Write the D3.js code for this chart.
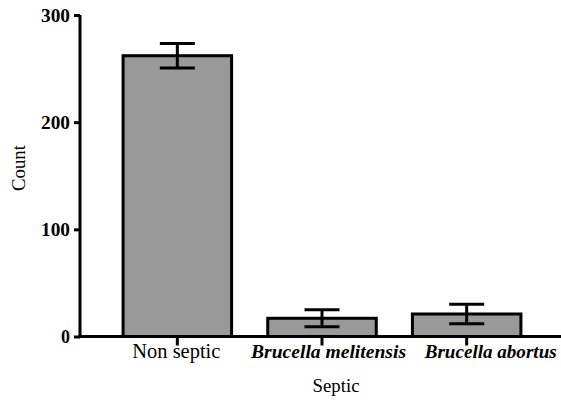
<!DOCTYPE html>
<html><head><meta charset="utf-8">
<script src="https://cdn.jsdelivr.net/npm/d3@7"></script>
</head><body style="margin:0;background:#fff">
<svg id="c" width="561" height="404"></svg>
<script>
const categories = ["Non septic", "Brucella melitensis", "Brucella abortus"];
const italic = [false, true, true];
const means = [262, 17, 21];
const errors = [11.5, 8, 9];
const yTicks = [0, 100, 200, 300];

const FONT = "Liberation Serif, Times New Roman, Tinos";
const svg = d3.select("#c");

const x = d3.scaleBand().domain(categories).range([105, 539]).paddingInner(0.25).paddingOuter(0.125);
const y = d3.scaleLinear().domain([0, 300]).range([336.5, 15]);

// bars
svg.selectAll("rect.bar").data(categories).enter().append("rect")
  .attr("x", d => x(d)).attr("width", x.bandwidth())
  .attr("y", (d,i) => y(means[i])).attr("height", (d,i) => y(0) - y(means[i]))
  .attr("fill", "#999999").attr("stroke", "#000").attr("stroke-width", 3);

// error bars
const cap = 35;
const eg = svg.append("g").attr("stroke", "#000").attr("stroke-width", 3).attr("fill", "none");
categories.forEach((c, i) => {
  const cx = x(c) + x.bandwidth()/2;
  eg.append("line").attr("x1", cx).attr("x2", cx).attr("y1", y(means[i]+errors[i])).attr("y2", y(means[i]-errors[i]));
  eg.append("line").attr("x1", cx-cap/2).attr("x2", cx+cap/2).attr("y1", y(means[i]+errors[i])).attr("y2", y(means[i]+errors[i]));
  eg.append("line").attr("x1", cx-cap/2).attr("x2", cx+cap/2).attr("y1", y(means[i]-errors[i])).attr("y2", y(means[i]-errors[i]));
});

// y axis
const ya = svg.append("g").attr("transform", "translate(80,0)")
  .call(d3.axisLeft(y).tickValues(yTicks).tickSize(6).tickPadding(4).tickFormat(d3.format("d")));
ya.select(".domain").attr("stroke-width", 3).attr("d", `M0,${y(300)}V${y(0)}`);
ya.selectAll(".tick line").attr("stroke-width", 3);
ya.selectAll(".tick text").attr("font-size", 18).attr("font-weight", "bold").attr("fill", "#000")
  .attr("data-w", d => d === 0 ? 0 : 29);

// x axis
const xa = svg.append("g").attr("transform", `translate(0,${y(0)})`)
  .call(d3.axisBottom(x).tickSize(9).tickPadding(0));
xa.select(".domain").attr("stroke-width", 3).attr("d", `M78.5,0H561`);
xa.selectAll(".tick line").attr("stroke-width", 3);
const labelW = [88, 155, 132];
const labelShift = [-1, 6.5, 24];
xa.selectAll(".tick text")
  .attr("font-size", (d,i) => italic[i] ? 19.5 : 20.5)
  .attr("font-style", (d,i) => italic[i] ? "italic" : "normal")
  .attr("font-weight", (d,i) => italic[i] ? "bold" : "normal")
  .attr("fill", "#000").attr("y", 21.5).attr("dy", null)
  .attr("x", (d,i) => labelShift[i])
  .attr("data-w", (d,i) => labelW[i]);

svg.append("text").attr("x", 336).attr("y", 392).attr("text-anchor", "middle")
  .attr("font-size", 19).attr("data-w", 47).text("Septic");
svg.append("text").attr("transform", "translate(25,168) rotate(-90)").attr("text-anchor", "middle")
  .attr("font-size", 19).attr("data-w", 46).text("Count");

// apply font and fit each label to the width measured on the reference
function applyFonts(fam) {
  svg.selectAll("g").attr("font-family", null);
  svg.selectAll("text").attr("font-family", fam).style("font-family", fam);
  svg.selectAll("text").each(function() {
    const w = +this.getAttribute("data-w");
    if (!w) return;
    const fs = +this.getAttribute("font-size");
    const cur = this.getComputedTextLength();
    if (cur > 0) {
      const nfs = Math.max(12, Math.min(24, fs * w / cur));
      this.setAttribute("font-size", nfs.toFixed(2));
    }
  });
}
applyFonts(FONT);
requestAnimationFrame(() => applyFonts("Liberation Serif"));
setTimeout(() => applyFonts(FONT), 150);
if (document.fonts && document.fonts.ready) document.fonts.ready.then(() => applyFonts("Liberation Serif"));
</script>
</body></html>
